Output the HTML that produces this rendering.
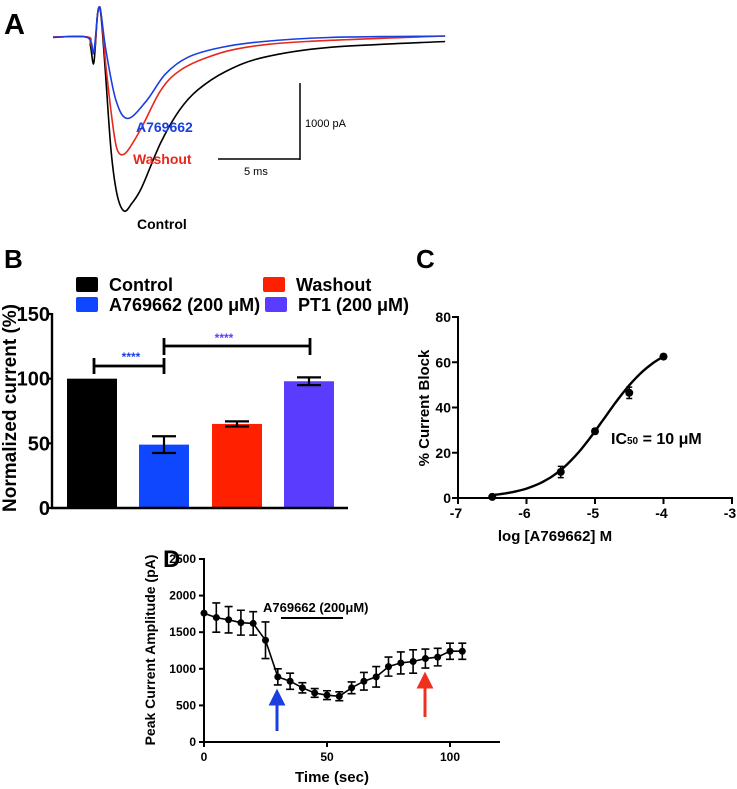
<!DOCTYPE html>
<html><head><meta charset="utf-8"><style>
html,body{margin:0;padding:0;background:#fff}
svg{display:block;font-family:"Liberation Sans",Arial,sans-serif}
.b{font-weight:bold}
</style></head><body>
<svg id="fig" width="737" height="789" viewBox="0 0 737 789">
<g id="pA">
<text x="4" y="34" font-size="29" class="b">A</text>
<g id="traces"></g>
<line x1="300" y1="83" x2="300" y2="160" stroke="#000" stroke-width="1.5"/>
<line x1="218" y1="159" x2="300" y2="159" stroke="#000" stroke-width="1.5"/>
<text x="305" y="127" font-size="11">1000 pA</text>
<text x="244" y="175" font-size="11">5  ms</text>
<text x="136" y="132" font-size="14" class="b" fill="#1a3fe0">A769662</text>
<text x="133" y="164" font-size="14" class="b" fill="#e8281c">Washout</text>
<text x="137" y="229" font-size="14" class="b" fill="#000">Control</text>
</g>
<g id="pB">
<text x="4" y="268" font-size="26" class="b">B</text>
<g id="legendB"></g>
<g id="barsB"></g>
<text transform="translate(16,408) rotate(-90)" text-anchor="middle" font-size="19" class="b">Normalized current (%)</text>
</g>
<g id="pC">
<text x="416" y="268" font-size="26" class="b">C</text>
<g id="plotC"></g>
<text transform="translate(429,408) rotate(-90)" text-anchor="middle" font-size="15" class="b">% Current Block</text>
<text x="555" y="541" text-anchor="middle" font-size="15" class="b">log [A769662] M</text>
<text x="611" y="444" font-size="16" class="b">IC<tspan font-size="10">50</tspan> = 10 μM</text>
</g>
<g id="pD">
<text x="163" y="567" font-size="24" class="b">D</text>
<g id="plotD"></g>
<text transform="translate(155,650) rotate(-90)" text-anchor="middle" font-size="14" class="b">Peak Current Amplitude (pA)</text>
<text x="332" y="782" text-anchor="middle" font-size="15" class="b">Time (sec)</text>
<line x1="281" y1="618" x2="343" y2="618" stroke="#000" stroke-width="2"/>
<text x="263" y="612" font-size="13" class="b">A769662 (200μM)</text>
</g>
</svg>
<script>
// ---- Panel A data (time ms, current pA) ----
const blackT=[0,2.08,2.26,2.44,2.56,2.68,2.80,2.92,3.15,3.51,3.87,4.29,4.76,5.36,6.49,7.62,8.75,10.48,12.74,16.67,23.69];
const blackI=[0,0,-110,-357,-110,280,384,241,-410,-1500,-2070,-2290,-2190,-1980,-1400,-970,-696,-449,-267,-137,-59];
const redT=[0,2.08,2.26,2.44,2.56,2.68,2.80,2.92,3.21,3.63,3.87,4.17,4.58,5.36,6.49,7.62,9.35,11.61,15.3,23.69];
const redI=[0,0,-72,-202,-72,280,397,280,-410,-1190,-1475,-1550,-1475,-1190,-709,-449,-267,-137,-59,13];
const blueT=[0,2.08,2.44,2.68,2.80,2.92,3.21,3.81,4.52,5.65,6.79,8.15,10.18,12.74,16.67,23.69];
const blueI=[-6,-6,-215,280,397,280,-189,-839,-1073,-839,-488,-267,-137,-59,-6,13];
// ---- Panel B data ----
const catsB=["Control","A769662 (200 μM)","Washout","PT1 (200 μM)"];
const valsB=[100,49,65,98];
const errB=[0,6.5,2,3];
const colsB=["#000000","#0f47ff","#ff2000","#5a3cff"];
const ticksB=[0,50,100,150];
// ---- Panel C data ----
const logC=[-6.5,-5.5,-5,-4.5,-4];
const blockC=[0.5,11.5,29.5,46.5,62.5];
const errC=[0.5,2.5,1,2.5,1];
const ticksCx=[-7,-6,-5,-4,-3];
const ticksCy=[0,20,40,60,80];
const fitTop=70, fitLogIC=-4.87, fitSlope=1.06;
// ---- Panel D data ----
const timeD=[0,5,10,15,20,25,30,35,40,45,50,55,60,65,70,75,80,85,90,95,100,105];
const ampD=[1760,1700,1670,1630,1620,1390,890,830,740,670,640,625,740,830,890,1030,1080,1100,1140,1160,1240,1240];
const errD=[120,200,180,170,160,250,110,110,70,60,60,60,80,120,140,130,150,160,130,120,110,110];
const ticksDx=[0,50,100];
const ticksDy=[0,500,1000,1500,2000,2500];

const NS="http://www.w3.org/2000/svg";
function mk(tag,attrs,parent){const e=document.createElementNS(NS,tag);for(const k in attrs)e.setAttribute(k,attrs[k]);parent.appendChild(e);return e;}
function smooth(pts){let d="M"+pts[0][0]+","+pts[0][1];for(let i=0;i<pts.length-1;i++){const p0=pts[Math.max(0,i-1)],p1=pts[i],p2=pts[i+1],p3=pts[Math.min(pts.length-1,i+2)];const c1x=p1[0]+(p2[0]-p0[0])/6,c1y=p1[1]+(p2[1]-p0[1])/6,c2x=p2[0]-(p3[0]-p1[0])/6,c2y=p2[1]-(p3[1]-p1[1])/6;d+=" C"+c1x.toFixed(1)+","+c1y.toFixed(1)+" "+c2x.toFixed(1)+","+c2y.toFixed(1)+" "+p2[0].toFixed(1)+","+p2[1].toFixed(1);}return d;}

// Panel A
(function(){
const g=document.getElementById('traces');
const ax=t=>53+t*16.55, ay=I=>37-I*0.076;
[[blackT,blackI,"#000","trace-control"],[redT,redI,"#e8281c","trace-washout"],[blueT,blueI,"#1a3fe0","trace-a769662"]].forEach(s=>{
const p=mk('path',{d:smooth(s[0].map((t,i)=>[ax(t),ay(s[1][i])])),fill:"none",stroke:s[2],"stroke-width":1.6},g);


});
})();

// Panel B
(function(){
const g=document.getElementById('barsB'), lg=document.getElementById('legendB');
const y=v=>508-v*(194/150);
const bx=[67,139,212,284], bw=50;
valsB.forEach((v,i)=>{
const r=mk('rect',{x:bx[i],y:y(v),width:bw,height:508-y(v),fill:colsB[i]},g);


if(errB[i]>0){const cx=bx[i]+bw/2;
const e=mk('path',{d:`M${cx},${y(v+errB[i])}V${y(v-errB[i])}M${cx-12},${y(v+errB[i])}H${cx+12}M${cx-12},${y(v-errB[i])}H${cx+12}`,stroke:"#000","stroke-width":2.2,fill:"none"},g);

}
});
mk('line',{x1:52,y1:313,x2:52,y2:509,stroke:"#000","stroke-width":2.4},g);
mk('line',{x1:51,y1:508,x2:348,y2:508,stroke:"#000","stroke-width":2.4},g);
ticksB.forEach(t=>{mk('line',{x1:47,y1:y(t),x2:52,y2:y(t),stroke:"#000","stroke-width":2.2},g);
const tx=mk('text',{x:50,y:y(t)+7,"text-anchor":"end","font-size":20,"font-weight":"bold"},g);tx.textContent=t;

});
const s1=mk('path',{d:"M94,366H164M94,358V374M164,358V374",stroke:"#000","stroke-width":2.8,fill:"none"},g);


const t1=mk('text',{x:131,y:361,"text-anchor":"middle","font-size":12,"font-weight":"bold",fill:"#1a3fe0"},g);t1.textContent="****";
const s2=mk('path',{d:"M164,346H310M164,338V355M310,338V355",stroke:"#000","stroke-width":2.8,fill:"none"},g);


const t2=mk('text',{x:224,y:342,"text-anchor":"middle","font-size":12,"font-weight":"bold",fill:"#5a3cff"},g);t2.textContent="****";
const lp=[[76,277],[76,297],[263,277],[265,297]];
[0,1,2,3].forEach(i=>{const [lx,ly]=lp[i];
const sq=mk('rect',{x:lx,y:ly,width:22,height:15,fill:colsB[i],rx:2},lg);


const t=mk('text',{x:lx+33,y:ly+14,"font-size":18,"font-weight":"bold"},lg);t.textContent=catsB[i];

});
})();

// Panel C
(function(){
const g=document.getElementById('plotC');
const x=v=>458+(v+7)*68.5, y=v=>498-v*(181/80);
mk('line',{x1:458,y1:316,x2:458,y2:499,stroke:"#000","stroke-width":2},g);
mk('line',{x1:457,y1:498,x2:733,y2:498,stroke:"#000","stroke-width":2},g);
ticksCy.forEach(t=>{mk('line',{x1:452,y1:y(t),x2:458,y2:y(t),stroke:"#000","stroke-width":2},g);
const tx=mk('text',{x:451,y:y(t)+5,"text-anchor":"end","font-size":14,"font-weight":"bold"},g);tx.textContent=t;

});
ticksCx.forEach(t=>{mk('line',{x1:x(t),y1:498,x2:x(t),y2:504,stroke:"#000","stroke-width":2},g);
const tx=mk('text',{x:x(t)-2,y:518,"text-anchor":"middle","font-size":14,"font-weight":"bold"},g);tx.textContent=t;

});
let d="";for(let v=logC[0];v<=logC[logC.length-1]+1e-9;v+=0.05){const f=fitTop/(1+Math.pow(10,(fitLogIC-v)*fitSlope));d+=(d?"L":"M")+x(v).toFixed(1)+","+y(f).toFixed(1);}
const c=mk('path',{d:d,fill:"none",stroke:"#000","stroke-width":2.4},g);


logC.forEach((v,i)=>{const cx=x(v);
if(errC[i]>0.6){mk('path',{d:`M${cx},${y(blockC[i]+errC[i])}V${y(blockC[i]-errC[i])}M${cx-3},${y(blockC[i]+errC[i])}H${cx+3}M${cx-3},${y(blockC[i]-errC[i])}H${cx+3}`,stroke:"#000","stroke-width":1.5,fill:"none"},g);}
const p=mk('circle',{cx:cx,cy:y(blockC[i]),r:4,fill:"#000"},g);

});
})();

// Panel D
(function(){
const g=document.getElementById('plotD');
const x=v=>204+v*2.46, y=v=>742-v*(183/2500);
mk('line',{x1:204,y1:558,x2:204,y2:743,stroke:"#000","stroke-width":2},g);
mk('line',{x1:203,y1:742,x2:500,y2:742,stroke:"#000","stroke-width":2},g);
ticksDy.forEach(t=>{mk('line',{x1:199,y1:y(t),x2:204,y2:y(t),stroke:"#000","stroke-width":2},g);
const tx=mk('text',{x:196,y:y(t)+4,"text-anchor":"end","font-size":12,"font-weight":"bold"},g);tx.textContent=t;

});
ticksDx.forEach(t=>{mk('line',{x1:x(t),y1:742,x2:x(t),y2:747,stroke:"#000","stroke-width":2},g);
const tx=mk('text',{x:x(t),y:761,"text-anchor":"middle","font-size":12,"font-weight":"bold"},g);tx.textContent=t;

});
const ln=mk('path',{d:timeD.map((t,i)=>(i?"L":"M")+x(t).toFixed(1)+","+y(ampD[i]).toFixed(1)).join(""),fill:"none",stroke:"#000","stroke-width":1.6},g);


timeD.forEach((t,i)=>{const cx=x(t);
if(i>0)mk('path',{d:`M${cx},${y(ampD[i]+errD[i])}V${y(ampD[i]-errD[i])}M${cx-4},${y(ampD[i]+errD[i])}H${cx+4}M${cx-4},${y(ampD[i]-errD[i])}H${cx+4}`,stroke:"#000","stroke-width":1.6,fill:"none"},g);
const p=mk('circle',{cx:cx,cy:y(ampD[i]),r:3.5,fill:"#000"},g);

});
const a1=mk('path',{d:"M277,731V702M271,704L277,692L283,704Z",stroke:"#1a3fe0","stroke-width":3,fill:"#1a3fe0"},g);


const a2=mk('path',{d:"M425,717V685M419,687L425,675L431,687Z",stroke:"#f0301c","stroke-width":3,fill:"#f0301c"},g);


})();
</script>
</body></html>
